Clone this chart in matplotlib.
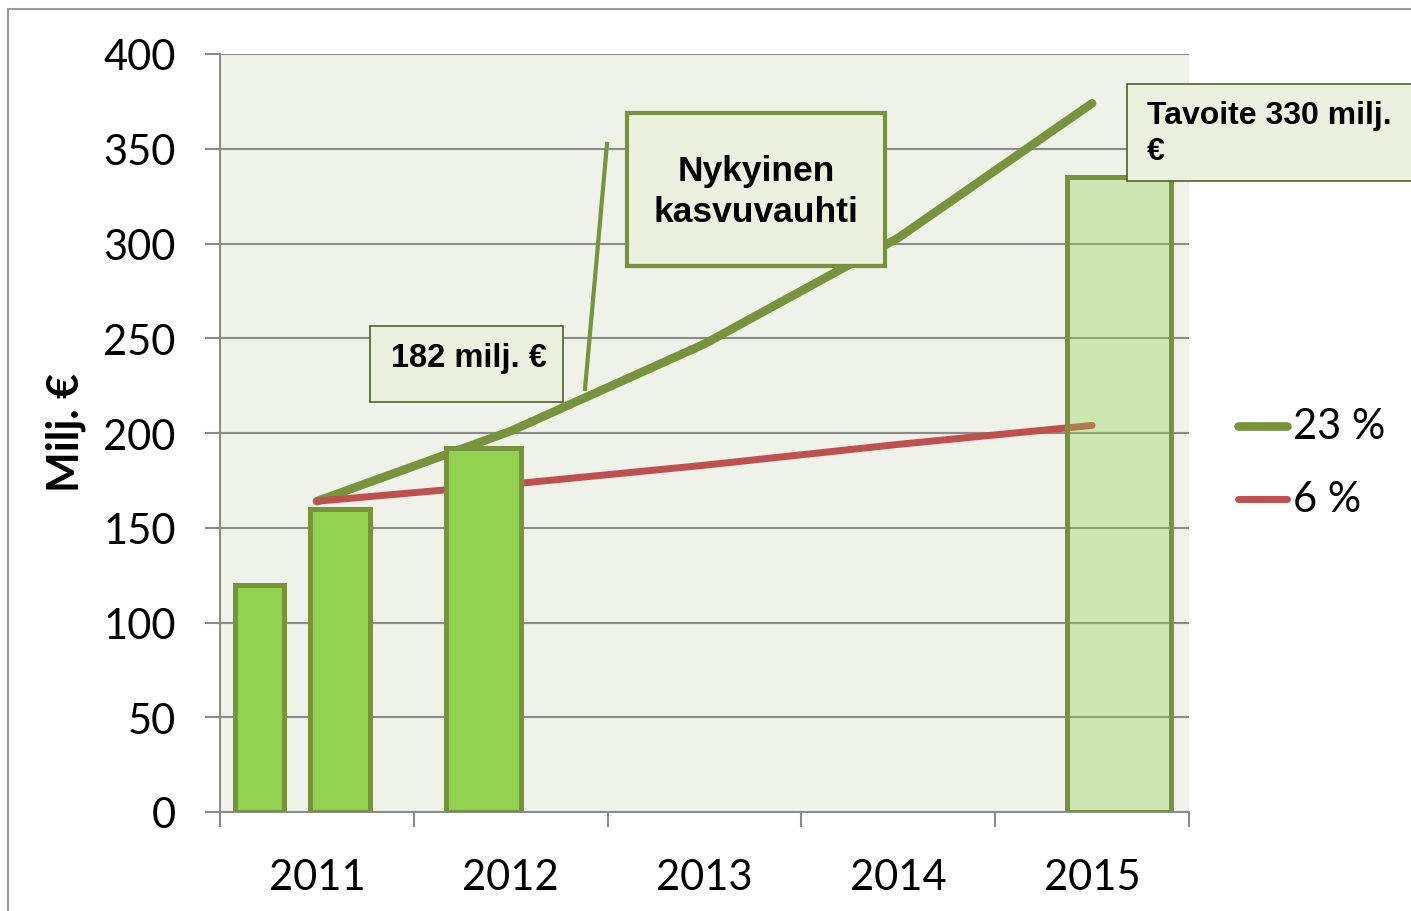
import matplotlib
matplotlib.use("Agg")
import matplotlib.pyplot as plt
from matplotlib.patches import Rectangle
from matplotlib.lines import Line2D
import numpy as np

# ---- data ----
years = ['2011', '2012', '2013', '2014', '2015']
bar_values = [120, 160, 192, 335]          # actual / target bars
bar_labels = ['2010', '2011', '2012', '2015 tavoite']
growth_23 = [164, 201, 247, 303, 374]
growth_6 = [164, 173, 183, 194, 204]
series_labels = ['23 %', '6 %']
ytick_vals = [0, 50, 100, 150, 200, 250, 300, 350, 400]

# ---- layout (positions / styles) ----
W, H = 1411, 912
bar_pos = [-0.296, 0.119, 0.861, 4.137]
bar_w = [0.253, 0.308, 0.387, 0.536]

GREEN = '#77933C'
RED = '#C0504D'
BAR = '#92D050'
BG = '#EEF2E8'
GRID = '#8C8C8C'

fig = plt.figure(figsize=(W / 100, H / 100), dpi=100)
fig.patch.set_facecolor('white')

def fx(px):
    return px / W

def fy(py):
    return 1 - py / H

ax = fig.add_axes([fx(220), fy(813), fx(1189) - fx(220), fy(55) - fy(813)])
ax.set_facecolor(BG)
ax.set_xlim(-0.5, 4.5)
ax.set_ylim(0, 400)

# gridlines
ax.set_yticks(ytick_vals)
ax.yaxis.grid(True, color=GRID, lw=1.5, zorder=0)
ax.set_axisbelow(True)

x = np.arange(len(years))
ax.plot(x, growth_23, color=GREEN, lw=6.2, solid_capstyle='round', zorder=2)
ax.plot(x, growth_6, color=RED, lw=5, solid_capstyle='round', zorder=2)

for i, (p, w, v) in enumerate(zip(bar_pos, bar_w, bar_values)):
    if i < 3:
        ax.bar(p, v, width=w, color=BAR, edgecolor=GREEN, linewidth=3.6, zorder=3)
    else:
        ax.bar(p, v, width=w, color=(146/255, 208/255, 80/255, 0.35),
               edgecolor=GREEN, linewidth=3.6, zorder=3)

for s in ['top', 'right']:
    ax.spines[s].set_visible(False)
for s in ['left', 'bottom']:
    ax.spines[s].set_color(GRID)
    ax.spines[s].set_linewidth(1.5)

ax.set_yticklabels([str(v) for v in ytick_vals], fontsize=30, family='Lato')
ax.tick_params(axis='y', length=11, width=1.5, color=GRID, pad=21)
ax.set_xticks(x)
ax.set_xticklabels(years, fontsize=30, family='Lato')
ax.set_xticks(np.arange(-0.5, 4.6, 1.0), minor=True)
ax.tick_params(axis='x', which='major', length=0, pad=33)
ax.tick_params(axis='x', which='minor', length=11, width=1.5, color=GRID)

fig.text(fx(66), fy(433), 'Milj. €', rotation=90, ha='center', va='center',
         fontsize=31, fontweight='bold', family='Lato')

# legend (manual)
for (lab, col, yy, lw) in [(series_labels[0], GREEN, 427, 6.2), (series_labels[1], RED, 500, 5)]:
    fig.add_artist(Line2D([fx(1238), fx(1287)], [fy(yy), fy(yy)], color=col, lw=lw,
                          solid_capstyle='round'))
    fig.text(fx(1293), fy(yy), lab, ha='left', va='center', fontsize=30, family='Lato')

# annotation boxes
def box(x0, y0, x1, y1, ec, lw):
    fig.add_artist(Rectangle((fx(x0), fy(y1)), fx(x1) - fx(x0), fy(y0) - fy(y1),
                             facecolor='#EBF1DE', edgecolor=ec, lw=lw, zorder=5))

# connector
fig.add_artist(Line2D([fx(607), fx(585)], [fy(145), fy(390)], color=GREEN, lw=3, zorder=4))

box(370, 327, 563, 403, '#4F6228', 1.2)
fig.text(fx(469), fy(358), '182 milj. €', ha='center', va='center', fontsize=23.5,
         fontweight='bold', family='Liberation Sans', zorder=6)

box(627, 114, 885, 267, GREEN, 3)
fig.text(fx(756), fy(192), 'Nykyinen\nkasvuvauhti', ha='center', va='center', fontsize=25.5,
         fontweight='bold', family='Liberation Sans', linespacing=1.3, zorder=6)

box(1127, 85, 1440, 182, '#4F6228', 1.2)
fig.text(fx(1147), fy(134), 'Tavoite 330 milj.\n€', ha='left', va='center', fontsize=23,
         fontweight='bold', family='Liberation Sans', linespacing=1.28, zorder=6)

# outer frame
fig.add_artist(Rectangle((fx(8), fy(940)), fx(1440) - fx(8), fy(10) - fy(940),
                         facecolor='none', edgecolor='#9A9A9A', lw=1.5, zorder=1))

fig.savefig('out.png', dpi=100)
